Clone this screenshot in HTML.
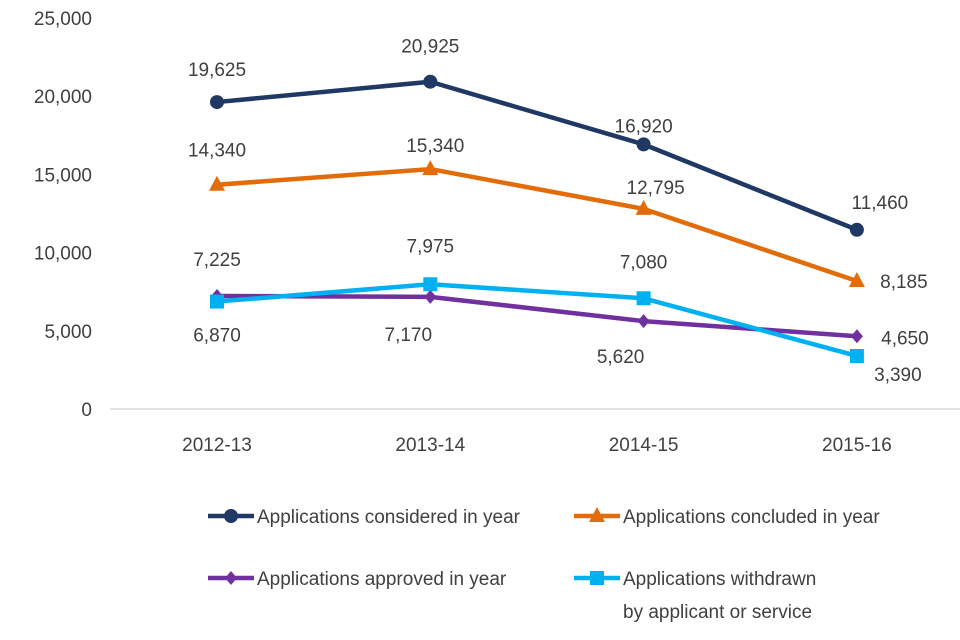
<!DOCTYPE html>
<html><head><meta charset="utf-8"><style>
html,body{margin:0;padding:0;background:#fff;}
svg{display:block;font-family:"Liberation Sans Narrow","Liberation Sans",sans-serif;}
text{fill:#404040;font-size:19px;}
</style></head><body>
<svg id="chart" width="960" height="640" viewBox="0 0 960 640"></svg>
<script>
const categories=["2012-13","2013-14","2014-15","2015-16"];
const considered=[19625,20925,16920,11460];
const concluded=[14340,15340,12795,8185];
const approved=[7225,7170,5620,4650];
const withdrawn=[6870,7975,7080,3390];
const yTicks=[0,5000,10000,15000,20000,25000];
const NS="http://www.w3.org/2000/svg";
const svg=document.getElementById('chart');
function y(v){return 409-v*(391/25000);}
function x(i){return 217+i*213.3;}
function el(t,a,p){const e=document.createElementNS(NS,t);for(const k in a)e.setAttribute(k,a[k]);(p||svg).appendChild(e);return e;}
function fmt(v){return v.toLocaleString('en-US');}
yTicks.forEach(v=>{const t=el('text',{x:92,y:y(v)+7,'text-anchor':'end'});t.textContent=fmt(v);

});
const ax=el('line',{x1:110,y1:409,x2:960,y2:409,stroke:'#d9d9d9','stroke-width':1.5});


categories.forEach((c,i)=>{const t=el('text',{x:x(i),y:451,'text-anchor':'middle'});t.textContent=c;

});
const series=[
 {name:'considered',data:considered,color:'#1f3864',m:'circle',lab:[[0,-33],[0,-36],[0,-19],[23,-28]]},
 {name:'concluded',data:concluded,color:'#e36c0a',m:'tri',lab:[[0,-35],[5,-24],[12,-22],[47,0]]},
 {name:'approved',data:approved,color:'#7030a0',m:'diamond',lab:[[0,-37],[-22,37],[-23,35],[48,1]]},
 {name:'withdrawn',data:withdrawn,color:'#00b0f0',m:'square',lab:[[0,33],[0,-39],[0,-37],[41,18]]}
];
function marker(s,cx,cy,g){
 let e;
 if(s.m==='circle')e=el('circle',{cx,cy,r:7,fill:s.color},g);
 else if(s.m==='tri')e=el('polygon',{points:`${cx},${cy-9} ${cx+8},${cy+6} ${cx-8},${cy+6}`,fill:s.color},g);
 else if(s.m==='diamond')e=el('polygon',{points:`${cx},${cy-7} ${cx+6},${cy} ${cx},${cy+7} ${cx-6},${cy}`,fill:s.color},g);
 else e=el('rect',{x:cx-7,y:cy-7,width:14,height:14,fill:s.color},g);
 return e;
}
series.forEach(s=>{
 const g=el('g',{});
 
 
 const pl=el('polyline',{points:s.data.map((v,i)=>x(i)+','+y(v)).join(' '),fill:'none',stroke:s.color,'stroke-width':4.5,'stroke-linejoin':'round'},g);
 
 
 s.data.forEach((v,i)=>{
  const m=marker(s,x(i),y(v),g);
  
  
  const t=el('text',{x:x(i)+s.lab[i][0],y:y(v)+s.lab[i][1]+7,'text-anchor':'middle'});
  t.textContent=fmt(v);
  
  
 });
});
const legend=[
 [0,208,516,['Applications considered in year']],
 [1,574,516,['Applications concluded in year']],
 [2,208,578,['Applications approved in year']],
 [3,574,578,['Applications withdrawn','by applicant or service']]
];
legend.forEach(([si,lx,ly,lines])=>{
 const s=series[si];
 const g=el('g',{});
 
 
 el('line',{x1:lx,y1:ly,x2:lx+46,y2:ly,stroke:s.color,'stroke-width':4.5},g);
 marker(s,lx+23,ly,g);
 lines.forEach((L,k)=>{const t=el('text',{x:lx+49,y:ly+7+k*33},g);t.textContent=L;});
});
</script>
</body></html>
